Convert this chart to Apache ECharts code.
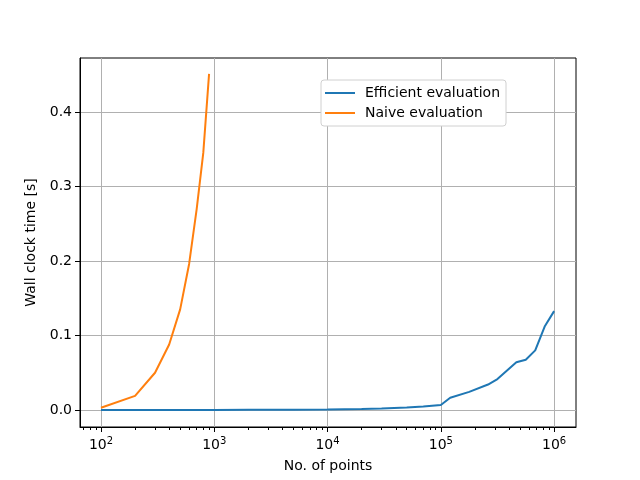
<!DOCTYPE html>
<html>
<head>
<meta charset="utf-8">
<script src="https://cdn.jsdelivr.net/npm/echarts@6/dist/echarts.min.js"></script>
<style>
html, body { margin: 0; padding: 0; background: #fff; }
#chart { width: 640px; height: 480px; }
</style>
</head>
<body>
<div id="chart"></div>
<script>
// number of points (x) and wall clock time in seconds (y)
var efficientN = [100, 200, 500, 1000, 2000, 5000, 10000, 20000, 30000, 50000, 70000,
                  100000, 121000, 178000, 261000, 316000, 464000, 562000, 681000, 825000, 1000000];
var efficientT = [0.0001, 0.0001, 0.0001, 0.0001, 0.0002, 0.0004, 0.0008, 0.0014, 0.0021, 0.0033, 0.0047,
                  0.0068, 0.0165, 0.0243, 0.0342, 0.0415, 0.0640, 0.0675, 0.0800, 0.1120, 0.1327];
var naiveN = [100, 200, 300, 400, 500, 600, 700, 800, 900];
var naiveT = [0.003, 0.019, 0.050, 0.088, 0.135, 0.196, 0.270, 0.345, 0.451];

var xTicks = [2, 3, 4, 5, 6];           // decades, 10^k
var yTicks = [0, 0.1, 0.2, 0.3, 0.4];

var xMin = Math.log10(65.3), xMax = Math.log10(1.56e6);
var yMin = -0.0228, yMax = 0.4724;

var font = 'DejaVu Sans';

function toPairs(xs, ys) {
	return xs.map(function (x, i) { return [Math.log10(x), ys[i]]; });
}

// minor ticks at 2..9 x 10^d
var minorTicks = [];
for (var d = 1; d <= 6; d++) {
	for (var k = 2; k <= 9; k++) {
		var v = Math.log10(k * Math.pow(10, d));
		if (v > xMin && v < xMax) minorTicks.push(v);
	}
}

var chart = echarts.init(document.getElementById('chart'));
var option = {
	animation: false,
	backgroundColor: '#fff',
	textStyle: { fontFamily: font },
	grid: {
		left: 80, right: 64, top: 58, bottom: 53,
		show: true, borderColor: '#000', borderWidth: 1
	},
	legend: {
		orient: 'vertical',
		left: 321, top: 80,
		data: ['Efficient evaluation', 'Naive evaluation'],
		icon: 'rect',
		itemWidth: 30, itemHeight: 2,
		itemGap: 4,
		backgroundColor: '#fff',
		borderColor: '#d0d0d0', borderWidth: 1, borderRadius: 3,
		padding: [5, 6, 5, 4],
		textStyle: { fontFamily: font, fontSize: 14, color: '#000', lineHeight: 16, padding: [0, 0, 0, 5] }
	},
	xAxis: [
		{
			type: 'value', min: xMin, max: xMax, position: 'bottom',
			name: 'No. of points', nameLocation: 'middle', nameGap: 32,
			nameTextStyle: { fontFamily: font, fontSize: 14, color: '#000' },
			axisLine: { onZero: false, lineStyle: { color: '#000', width: 1 } },
			axisTick: { customValues: xTicks, length: 5, lineStyle: { color: '#000' } },
			axisLabel: {
				customValues: xTicks, margin: 9, color: '#000',
				formatter: function (v) { return '{b|10}{s|' + v + '}'; },
				rich: {
					b: { fontFamily: font, fontSize: 14, color: '#000' },
					s: { fontFamily: font, fontSize: 10, color: '#000', padding: [0, 0, 8, 0] }
				}
			},
			splitLine: { show: true, lineStyle: { color: '#b0b0b0', width: 1 } }
		},
		{
			type: 'value', min: xMin, max: xMax, position: 'bottom',
			axisLine: { show: false, onZero: false },
			axisTick: { customValues: minorTicks, length: 3, lineStyle: { color: '#000' } },
			axisLabel: { show: false },
			splitLine: { show: false }
		}
	],
	yAxis: {
		type: 'value', min: yMin, max: yMax,
		name: 'Wall clock time [s]', nameLocation: 'middle', nameGap: 35,
		nameTextStyle: { fontFamily: font, fontSize: 14, color: '#000' },
		axisLine: { show: true, onZero: false, lineStyle: { color: '#000', width: 1 } },
		axisTick: { show: true, customValues: yTicks, length: 5, lineStyle: { color: '#000' } },
		axisLabel: {
			customValues: yTicks, margin: 8, color: '#000', fontFamily: font, fontSize: 14,
			formatter: function (v) { return v.toFixed(1); }
		},
		splitLine: { show: true, lineStyle: { color: '#b0b0b0', width: 1 } }
	},
	series: [
		{
			name: 'Efficient evaluation', type: 'line',
			data: toPairs(efficientN, efficientT),
			symbol: 'none', color: '#1f77b4',
			lineStyle: { width: 2, color: '#1f77b4' }
		},
		{
			name: 'Naive evaluation', type: 'line',
			data: toPairs(naiveN, naiveT),
			symbol: 'none', color: '#ff7f0e',
			lineStyle: { width: 2, color: '#ff7f0e' }
		}
	]
};
chart.setOption(option);
</script>
</body>
</html>
